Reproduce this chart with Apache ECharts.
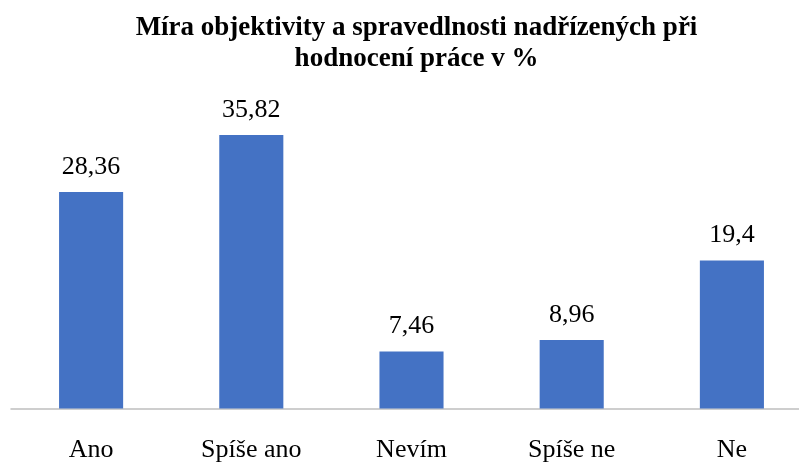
<!DOCTYPE html>
<html><head><meta charset="utf-8">
<script src="https://cdn.jsdelivr.net/npm/echarts@6/dist/echarts.min.js"></script>
<style>html,body{margin:0;padding:0;background:#fff}#c{width:799px;height:462px}</style>
</head><body><div id="c"></div>
<script>
const categories = ['Ano', 'Spíše ano', 'Nevím', 'Spíše ne', 'Ne'];
const values = [28.36, 35.82, 7.46, 8.96, 19.4];
const labels = ['28,36', '35,82', '7,46', '8,96', '19,4'];
const titleText = 'Míra objektivity a spravedlnosti nadřízených při\nhodnocení práce v %';
const chart = echarts.init(document.getElementById('c'));
chart.setOption({
  animation: false,
  backgroundColor: '#fff',
  title: {
    text: titleText, left: 411.5, top: 8, textAlign: 'center',
    textStyle: {fontFamily: 'Liberation Serif', fontWeight: 'bold', fontSize: 27, color: '#000', lineHeight: 31}
  },
  grid: {left: 11, width: 801, top: 103.2, bottom: 53.5, outerBoundsMode: 'none', containLabel: false},
  xAxis: {
    type: 'category', data: categories,
    axisLine: {lineStyle: {color: '#bfbfbf', width: 1.5}},
    axisTick: {show: false},
    axisLabel: {fontFamily: 'Liberation Serif', fontSize: 26, color: '#000', margin: 29}
  },
  yAxis: {type: 'value', min: 0, max: 40, show: false, splitLine: {show: false}},
  series: [{
    type: 'bar', data: values, barWidth: '40%',
    itemStyle: {color: '#4472C4'},
    label: {
      show: true, position: 'top', distance: 12,
      fontFamily: 'Liberation Serif', fontSize: 26, color: '#000',
      formatter: p => labels[p.dataIndex]
    }
  }]
});
</script></body></html>
